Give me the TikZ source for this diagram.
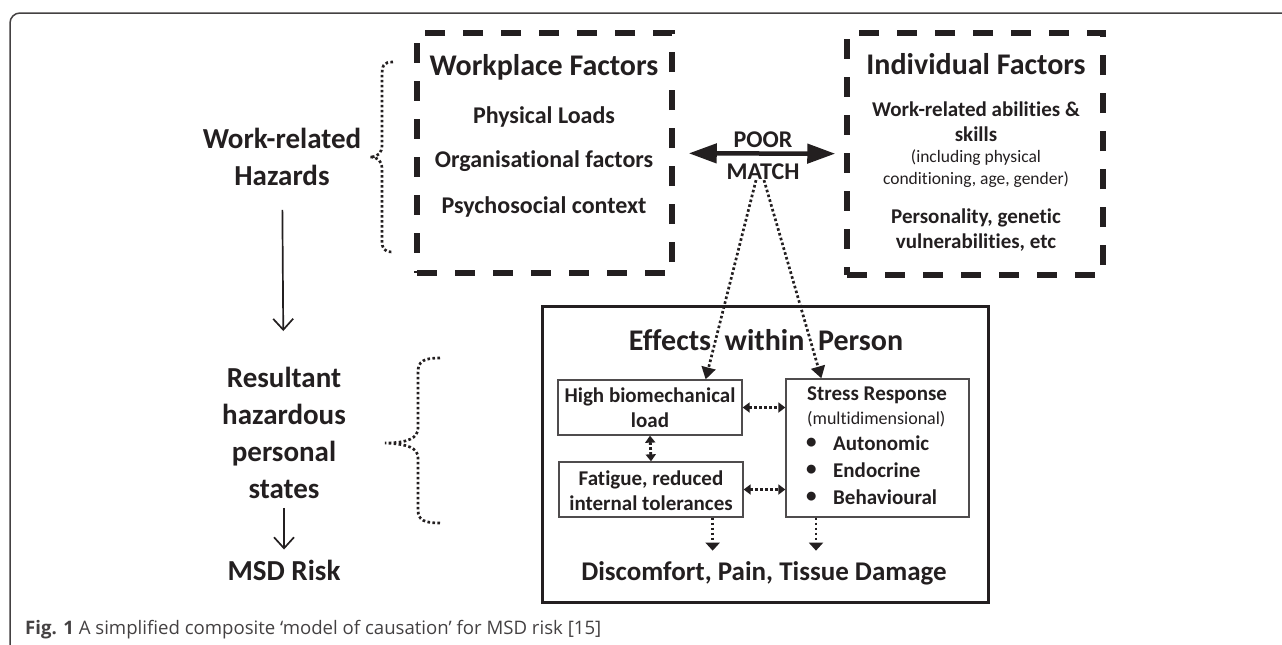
\documentclass[tikz,border=0pt]{standalone}
\usepackage{fontspec}
\setmainfont{Carlito}[Ligatures=NoCommon]
\newfontfamily\capfont{Open Sans}
\usetikzlibrary{arrows.meta,positioning,calc}
\definecolor{ink}{RGB}{35,31,32}

\begin{document}
\begin{tikzpicture}[x=1pt,y=-1pt,
    every node/.style={text=ink,inner sep=0pt},
    lefttxt/.style={font=\fontsize{29}{37}\selectfont\bfseries,align=center},
    title/.style={font=\fontsize{30}{34}\selectfont\bfseries,align=center},
    item/.style={font=\fontsize{24}{28}\selectfont\bfseries,align=center},
    note/.style={font=\fontsize{17.5}{22}\selectfont,align=center},
    small/.style={font=\fontsize{21}{25}\selectfont\bfseries,align=center},
    dashbox/.style={draw=ink,line width=5.5pt,dash pattern=on 20pt off 18pt,minimum width=#1},
    plainbox/.style={draw=ink!80,line width=1.3pt},
    thinarrow/.style={draw=ink,line width=1.7pt,-{Straight Barb[length=11pt,width=20pt,line width=1.7pt]}},
    bigarrow/.style={draw=ink,line width=4.5pt,{Triangle[length=28pt,width=19pt]}-{Triangle[length=28pt,width=19pt]}},
    dotline/.style={draw=ink,line width=2.7pt,dash pattern=on 2.6pt off 2.4pt},
    dotarrow/.style={dotline,-{Triangle[length=12pt,width=14pt]}},
    dotboth/.style={dotline,line width=2.9pt,{Triangle[length=7pt,width=10pt]}-{Triangle[length=7pt,width=10pt]}},
    dotdown/.style={dotline,line width=2.9pt,-{Triangle[length=8pt,width=14pt]}}]
\useasboundingbox (0,0) rectangle (1282,645);
% outer frame
\draw[ink!85,line width=1.5pt] (10,645) -- (10,23) arc[start angle=180,end angle=270,radius=10] -- (1282,13);

% left column
\node[lefttxt] (hazards) at (282,157) {Work-related\\Hazards};
\node[lefttxt] (states) at (284,433) {Resultant\\hazardous\\personal\\states};
\node[lefttxt] (msd) at (284,570) {MSD Risk};
\draw[thinarrow,shorten <=24pt,shorten >=36pt] (hazards) -- (states);
\draw[thinarrow,shorten <=9pt,shorten >=10pt] (states) -- (msd);

% braces
\draw[dotline] (393,62) .. controls (383,62) and (382,66) .. (382,76) -- (382,145)
  .. controls (382,153) and (378,157) .. (370,157)
  .. controls (378,157) and (382,161) .. (382,169) -- (382,240)
  .. controls (382,248) and (383,252) .. (393,252);
\draw[dotline] (440,358) .. controls (424,358) and (418,361) .. (418,372) -- (418,428)
  .. controls (418,438) and (408,443) .. (385,443)
  .. controls (408,444) and (418,448) .. (418,458) -- (418,510)
  .. controls (418,520) and (424,523) .. (440,523);

% factor boxes
\node[dashbox=255,minimum height=240] (work) at (544.5,153) {};
\node[title] (worktitle) at (544,67) {Workplace Factors};
\node[item] (phys) at (544,117) {Physical Loads};
\node[item] (org) at (544,161) {Organisational factors};
\node[item] (psy) at (544,207) {Psychosocial context};

\node[dashbox=256,minimum height=242] (indiv) at (975,154) {};
\node[title] (indtitle) at (976,64) {Individual Factors};
\node[small] (abil) at (976,122) {Work-related abilities \&\\skills};
\node[note] (incl) at (976,169) {(including physical\\conditioning, age, gender)};
\node[small] (pers) at (976,230) {Personality, genetic\\vulnerabilities, etc};

% poor match
\draw[bigarrow,shorten <=14pt,shorten >=9pt] (work) -- (indiv);
\node[item] (poor) at (763,140) {POOR};
\node[item] (match) at (763,172) {MATCH};

% effects within person
\node[draw=ink,line width=3pt,minimum width=446,minimum height=296] (effects) at (765,454) {};
\node[title] (efftitle) at (766,340) {Effects\ \ within\ \ Person};
\node[plainbox,minimum width=184,minimum height=55] (high) at (650,407.5) {};
\node[small] (hightxt) at (650,408) {High biomechanical\\load};
\node[plainbox,minimum width=184,minimum height=55] (fatigue) at (651,489.5) {};
\node[small] (fattxt) at (651,491) {Fatigue, reduced\\internal tolerances};
\node[plainbox,minimum width=183,minimum height=138] (stress) at (877.5,448) {};
\node[small,anchor=west] (sr) at (807,395) {Stress Response};
\node[note,anchor=west,font=\fontsize{18}{22}\selectfont] (multi) at (807,419) {(multidimensional)};
\foreach \y/\t [count=\i] in {443/Autonomic,470/Endocrine,497/Behavioural}{
  \node[small,anchor=west] (bul\i) at (806,\y) {\textbullet};
  \node[small,anchor=west] (lab\i) at (833,\y) {\t};
}
\node[title,font=\fontsize{27}{30}\selectfont\bfseries] (damage) at (764,573) {Discomfort, Pain, Tissue Damage};

\draw[dotarrow] ([xshift=-7pt]match.south) -- ([xshift=-37pt]high.north east);
\draw[dotarrow] ([xshift=1pt]match.south) -- ([xshift=36pt]stress.north west);
\draw[dotboth] (high.east) -- (high.east -| stress.west);
\draw[dotboth] (fatigue.east) -- (fatigue.east -| stress.west);
\draw[dotboth] (high.south) -- (fatigue.north);
\draw[dotdown] ([xshift=-31pt]fatigue.south east) -- ++(0,-33pt);
\draw[dotdown] (stress.south -| 816,0) -- ++(0,-33pt);

% caption
\node[anchor=base west,font=\capfont\fontsize{18.6}{22}\selectfont,text=ink!85] (caption) at (25,634)
  {\textbf{Fig. 1} A simplified composite ‘model of causation’ for MSD risk [15]};
\end{tikzpicture}
\end{document}
